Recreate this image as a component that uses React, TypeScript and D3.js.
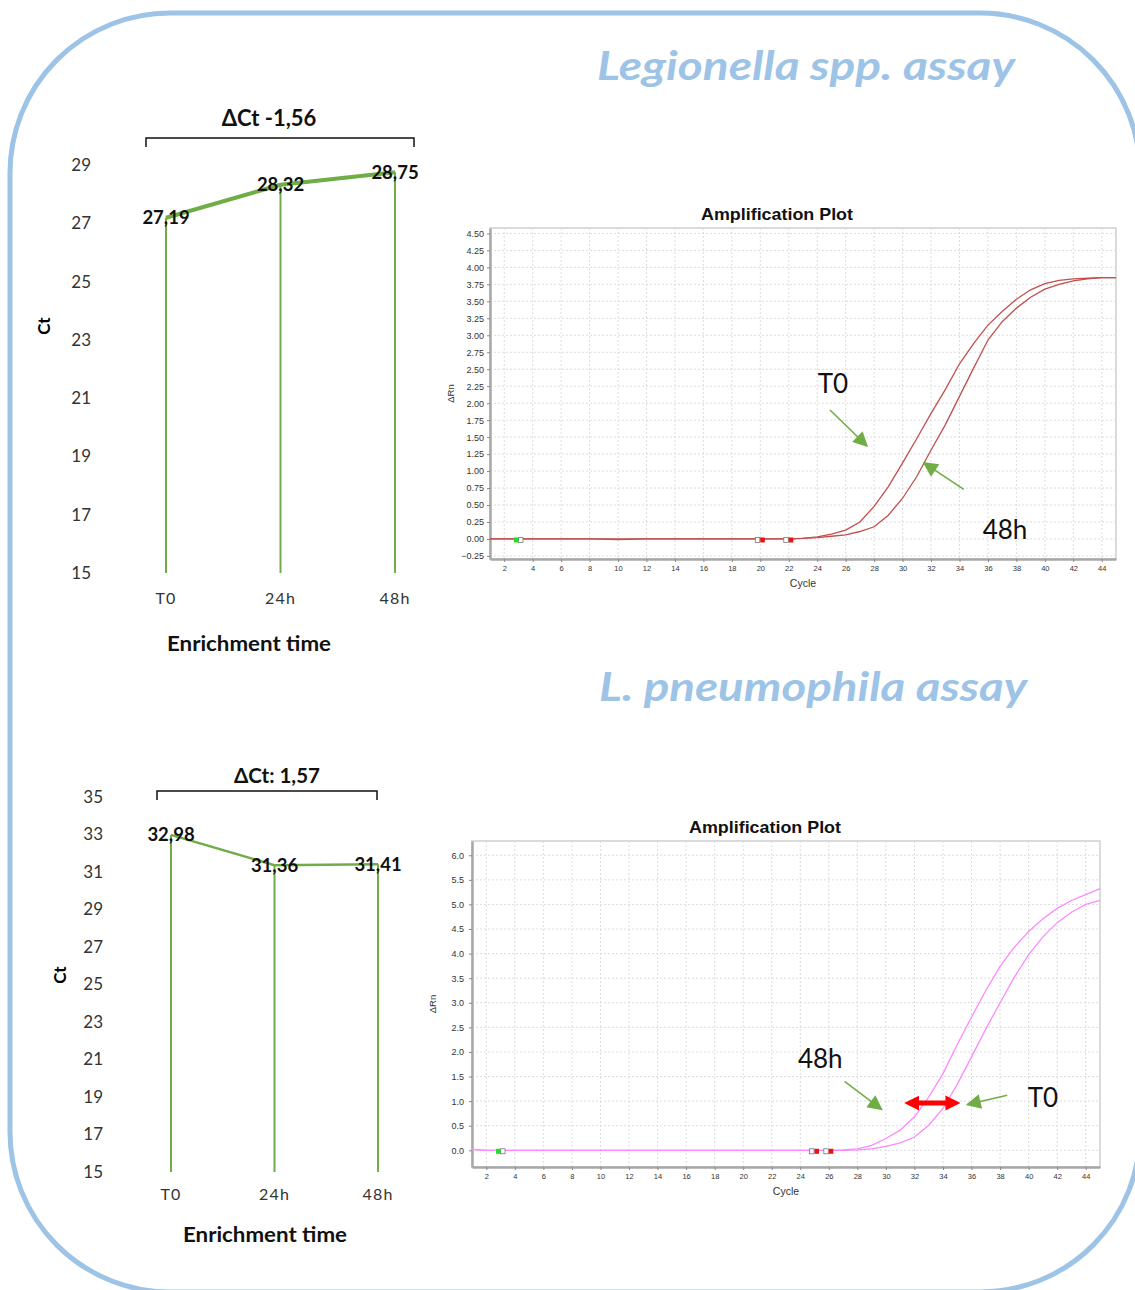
import * as d3 from 'd3';
import React, { useRef, useEffect } from 'react';

// enrichment time points shared by both Ct charts
const timePoints = ['T0', '24h', '48h'];

// Ct values (Legionella spp. assay / L. pneumophila assay)
const legionellaCt = [27.19, 28.32, 28.75];
const pneumophilaCt = [32.98, 31.36, 31.41];
const legionellaCtTicks = [15, 17, 19, 21, 23, 25, 27, 29];
const pneumophilaCtTicks = [15, 17, 19, 21, 23, 25, 27, 29, 31, 33, 35];

// amplification plot axes
const cycleTicks = [2, 4, 6, 8, 10, 12, 14, 16, 18, 20, 22, 24, 26, 28, 30, 32, 34, 36, 38, 40, 42, 44];
const legionellaRnTicks = [-0.25, 0, 0.25, 0.5, 0.75, 1, 1.25, 1.5, 1.75, 2, 2.25, 2.5, 2.75, 3, 3.25, 3.5, 3.75, 4, 4.25, 4.5];
const pneumophilaRnTicks = [0, 0.5, 1, 1.5, 2, 2.5, 3, 3.5, 4, 4.5, 5, 5.5, 6];

// Legionella spp. amplification curves (cycle, ΔRn)
const legionellaT0Cycles = [1, 8, 10, 12, 22, 23, 24, 25, 26, 27, 28, 29, 30, 31, 32, 33, 34, 35, 36, 37, 38, 39, 40, 41, 42, 43, 44, 45];
const legionellaT0Rn = [0, 0, -0.01, 0, 0, 0.01, 0.03, 0.07, 0.13, 0.25, 0.48, 0.77, 1.12, 1.48, 1.85, 2.2, 2.58, 2.88, 3.15, 3.35, 3.53, 3.67, 3.76, 3.81, 3.83, 3.84, 3.85, 3.85];
const legionella48hCycles = [1, 22, 23, 24, 25, 26, 27, 28, 29, 30, 31, 32, 33, 34, 35, 36, 37, 38, 39, 40, 41, 42, 43, 44, 45];
const legionella48hRn = [0, 0, 0.01, 0.02, 0.04, 0.06, 0.11, 0.18, 0.35, 0.6, 0.92, 1.31, 1.68, 2.1, 2.52, 2.93, 3.2, 3.4, 3.56, 3.68, 3.75, 3.8, 3.83, 3.85, 3.85];
const legionellaMarkers = [3, 20, 22];

// L. pneumophila amplification curves (cycle, ΔRn)
const pneumophila48hCycles = [1, 2, 26, 27, 28, 29, 30, 31, 32, 33, 34, 35, 36, 37, 38, 39, 40, 41, 42, 43, 44, 45];
const pneumophila48hRn = [0.02, 0, 0, 0.01, 0.03, 0.1, 0.24, 0.41, 0.68, 1.08, 1.56, 2.15, 2.71, 3.25, 3.74, 4.13, 4.45, 4.71, 4.92, 5.08, 5.2, 5.32];
const pneumophilaT0Cycles = [1, 2, 27, 28, 29, 30, 31, 32, 33, 34, 35, 36, 37, 38, 39, 40, 41, 42, 43, 44, 45];
const pneumophilaT0Rn = [0.02, 0, 0, 0.01, 0.03, 0.08, 0.15, 0.27, 0.51, 0.85, 1.34, 1.9, 2.47, 3.0, 3.52, 3.98, 4.34, 4.63, 4.84, 5.0, 5.08];
const pneumophilaMarkers = [3, 25, 26];

const CAL = 'Lato, "Open Sans", sans-serif';
const ARIAL = '"Liberation Sans", Arial, sans-serif';
const GREEN = '#70AD47';
const BLUE = '#9DC3E6';

const commaFmt = d3.formatLocale({ decimal: ',', thousands: '.', grouping: [3], currency: ['', ''] }).format('.2f');

function drawCt(svg, o) {
  const y = d3.scaleLinear().domain([o.ticks[0], o.ticks[o.ticks.length - 1]]).range([o.bottom, o.top]);
  const x = d3.scalePoint().domain(timePoints).range([o.x0, o.x1]);
  const g = svg.append('g').attr('font-family', CAL);

  g.selectAll('.ytick').data(o.ticks).enter().append('text')
    .attr('x', o.tickX).attr('y', d => y(d)).attr('dy', '0.35em')
    .attr('text-anchor', 'end').attr('font-size', 17).attr('fill', '#333')
    .text(d => d);

  // drop lines from each point to the axis floor
  g.selectAll('.drop').data(o.values).enter().append('line')
    .attr('x1', (d, i) => x(timePoints[i])).attr('x2', (d, i) => x(timePoints[i]))
    .attr('y1', d => y(d)).attr('y2', y(o.ticks[0]))
    .attr('stroke', GREEN).attr('stroke-width', 2);

  const line = d3.line().x((d, i) => x(timePoints[i])).y(d => y(d));
  g.append('path').datum(o.values).attr('d', line)
    .attr('fill', 'none').attr('stroke', GREEN).attr('stroke-width', o.lineWidth);

  g.selectAll('.val').data(o.values).enter().append('text')
    .attr('x', (d, i) => x(timePoints[i])).attr('y', d => y(d)).attr('dy', '0.35em')
    .attr('text-anchor', 'middle').attr('font-size', 18.5).attr('font-weight', 'bold').attr('fill', '#111')
    .text(d => commaFmt(d));

  g.selectAll('.cat').data(timePoints).enter().append('text')
    .attr('x', d => x(d)).attr('y', o.catY)
    .attr('text-anchor', 'middle').attr('font-size', 16).attr('letter-spacing', 1.2).attr('fill', '#333')
    .text(d => d);

  g.append('text').attr('transform', `translate(${o.ctX},${o.ctY}) rotate(-90)`)
    .attr('text-anchor', 'middle').attr('dy', '0.35em').attr('font-size', 17).attr('font-weight', 'bold')
    .text('Ct');

  g.append('text').attr('x', o.xTitleX).attr('y', o.xTitleY).attr('text-anchor', 'middle')
    .attr('textLength', 164).attr('lengthAdjust', 'spacingAndGlyphs')
    .attr('font-size', 21).attr('font-weight', 'bold').attr('fill', '#111').text('Enrichment time');

  // bracket + ΔCt title
  const b = o.bracket;
  g.append('path').attr('d', `M${b[0]},${b[2] + 9}V${b[2]}H${b[1]}V${b[2] + 9}`)
    .attr('fill', 'none').attr('stroke', '#111').attr('stroke-width', 1.5);
  g.append('text').attr('x', (b[0] + b[1]) / 2 + o.titleShift).attr('y', o.titleY).attr('text-anchor', 'middle')
    .attr('font-size', o.titleSize).attr('font-weight', 'bold').attr('fill', '#111').text(o.title);
}

function drawAmp(svg, o) {
  const x = d3.scaleLinear().domain([1, 45]).range([o.left, o.right]);
  const y = d3.scaleLinear().domain(o.yDomain).range([o.bottom, o.top]);
  const g = svg.append('g').attr('font-family', ARIAL);

  g.append('rect').attr('x', o.left).attr('y', o.top).attr('width', o.right - o.left).attr('height', o.bottom - o.top)
    .attr('fill', '#fff').attr('stroke', '#cfcfcf').attr('stroke-width', 1.5);

  // dashed grid
  g.selectAll('.gx').data(cycleTicks).enter().append('line')
    .attr('x1', d => x(d)).attr('x2', d => x(d)).attr('y1', o.top).attr('y2', o.bottom)
    .attr('stroke', '#dcdcdc').attr('stroke-dasharray', '2,2');
  g.selectAll('.gy').data(o.yTicks).enter().append('line')
    .attr('x1', o.left).attr('x2', o.right).attr('y1', d => y(d)).attr('y2', d => y(d))
    .attr('stroke', '#dcdcdc').attr('stroke-dasharray', '2,2');

  const yAxis = g.append('g').attr('transform', `translate(${o.left},0)`)
    .call(d3.axisLeft(y).tickValues(o.yTicks).tickFormat(d3.format(o.yFmt)).tickSize(3).tickPadding(o.yPad).tickSizeOuter(0));
  yAxis.selectAll('text').attr('font-size', 9).attr('fill', '#333').attr('font-family', ARIAL);
  yAxis.selectAll('line').attr('stroke', '#888');
  yAxis.select('.domain').attr('stroke', '#a8a8a8').attr('stroke-width', 2.5);

  const xAxis = g.append('g').attr('transform', `translate(0,${o.bottom})`)
    .call(d3.axisBottom(x).tickValues(cycleTicks).tickSize(3).tickPadding(4).tickSizeOuter(0));
  xAxis.selectAll('text').attr('font-size', 7.5).attr('fill', '#333').attr('font-family', ARIAL);
  xAxis.selectAll('line').attr('stroke', '#888');
  xAxis.select('.domain').attr('stroke', '#a8a8a8').attr('stroke-width', 2.5);

  g.append('text').attr('x', (o.left + o.right) / 2 + o.titleShift).attr('y', o.top - 8).attr('text-anchor', 'middle')
    .attr('textLength', 152).attr('lengthAdjust', 'spacingAndGlyphs')
    .attr('font-size', 16.5).attr('font-weight', 'bold').attr('fill', '#111').text('Amplification Plot');
  g.append('text').attr('transform', `translate(${o.left - 36},${(o.top + o.bottom) / 2}) rotate(-90)`)
    .attr('text-anchor', 'middle').attr('font-size', 9.5).attr('fill', '#333').text('ΔRn');
  g.append('text').attr('x', (o.left + o.right) / 2).attr('y', o.bottom + 28).attr('text-anchor', 'middle')
    .attr('font-size', 10.5).attr('fill', '#333').text('Cycle');

  const line = d3.line().x(d => x(d[0])).y(d => y(d[1]));
  o.curves.forEach(c => {
    g.append('path').datum(d3.zip(c.cycles, c.rn)).attr('d', line)
      .attr('fill', 'none').attr('stroke', c.color).attr('stroke-width', 1.3);
  });

  // baseline start / end markers
  o.markers.forEach((m, i) => {
    const cx = x(m);
    const cy = y(0) + 1;
    const first = i === 0;
    g.append('rect').attr('x', first ? cx : cx - 5).attr('y', cy - 2.5).attr('width', 4.5).attr('height', 5)
      .attr('fill', '#fff').attr('stroke', '#777').attr('stroke-width', 0.8);
    g.append('rect').attr('x', first ? cx - 4.5 : cx).attr('y', cy - 2.5).attr('width', 4.5).attr('height', 5)
      .attr('fill', first ? '#22dd22' : '#ee1111');
  });

  // annotations
  o.labels.forEach(l => {
    g.append('text').attr('x', x(l.c)).attr('y', y(l.v)).attr('dy', '0.35em').attr('text-anchor', 'middle')
      .attr('font-family', CAL).attr('font-size', 26).attr('fill', '#111').text(l.t);
  });
  o.arrows.forEach(a => {
    g.append('line').attr('x1', x(a[0])).attr('y1', y(a[1])).attr('x2', x(a[2])).attr('y2', y(a[3]))
      .attr('stroke', GREEN).attr('stroke-width', 1.6).attr('marker-end', 'url(#greenHead)');
  });
  if (o.gap) {
    g.append('line').attr('x1', x(o.gap[0]) + 6).attr('y1', y(o.gap[2])).attr('x2', x(o.gap[1]) - 6).attr('y2', y(o.gap[2]))
      .attr('stroke', '#ff0000').attr('stroke-width', 5)
      .attr('marker-start', 'url(#redHead)').attr('marker-end', 'url(#redHead)');
  }
}

export default function App() {
  const svgRef = useRef(null);

  useEffect(() => {
    if (!svgRef.current) return;
    const svg = d3.select(svgRef.current);
    svg.selectAll('*').remove();

    const defs = svg.append('defs');
    defs.append('marker').attr('id', 'greenHead').attr('viewBox', '0 0 10 10').attr('refX', 9).attr('refY', 5)
      .attr('markerWidth', 17).attr('markerHeight', 15).attr('markerUnits', 'userSpaceOnUse').attr('orient', 'auto')
      .append('path').attr('d', 'M0,0L10,5L0,10z').attr('fill', GREEN);
    defs.append('marker').attr('id', 'redHead').attr('viewBox', '0 0 10 10').attr('refX', 2).attr('refY', 5)
      .attr('markerWidth', 15).attr('markerHeight', 17).attr('markerUnits', 'userSpaceOnUse').attr('orient', 'auto-start-reverse')
      .append('path').attr('d', 'M0,0L10,5L0,10z').attr('fill', '#ff0000');

    svg.append('rect').attr('width', 1135).attr('height', 1290).attr('fill', '#fff');
    svg.append('rect').attr('x', 10).attr('y', 13).attr('width', 1130).attr('height', 1279).attr('rx', 160)
      .attr('fill', 'none').attr('stroke', BLUE).attr('stroke-width', 5);

    svg.append('text').attr('x', 597).attr('y', 80).attr('textLength', 418).attr('lengthAdjust', 'spacingAndGlyphs')
      .attr('font-family', CAL).attr('font-size', 40).attr('font-weight', 'bold').attr('font-style', 'italic')
      .attr('fill', BLUE).text('Legionella spp. assay');
    svg.append('text').attr('x', 599).attr('y', 701).attr('textLength', 428).attr('lengthAdjust', 'spacingAndGlyphs')
      .attr('font-family', CAL).attr('font-size', 40).attr('font-weight', 'bold').attr('font-style', 'italic')
      .attr('fill', BLUE).text('L. pneumophila assay');

    drawCt(svg, {
      values: legionellaCt, ticks: legionellaCtTicks, top: 165, bottom: 573, x0: 166, x1: 395,
      tickX: 91, catY: 604, ctX: 44, ctY: 326, xTitleX: 249, xTitleY: 651, lineWidth: 4,
      bracket: [146, 414, 138], title: 'ΔCt -1,56', titleY: 126, titleSize: 22, titleShift: -11,
    });
    drawCt(svg, {
      values: pneumophilaCt, ticks: pneumophilaCtTicks, top: 797, bottom: 1172, x0: 171, x1: 378,
      tickX: 103, catY: 1200, ctX: 60, ctY: 975, xTitleX: 265, xTitleY: 1242, lineWidth: 2.5,
      bracket: [157, 377, 791], title: 'ΔCt: 1,57', titleY: 783, titleSize: 20.5, titleShift: 10,
    });

    drawAmp(svg, {
      left: 490, right: 1116, top: 228, bottom: 559, yDomain: [-0.295, 4.58], yTicks: legionellaRnTicks,
      yFmt: '.2f', yPad: 3, titleShift: -26,
      curves: [
        { cycles: legionellaT0Cycles, rn: legionellaT0Rn, color: '#c0504d' },
        { cycles: legionella48hCycles, rn: legionella48hRn, color: '#c0504d' },
      ],
      markers: legionellaMarkers,
      labels: [{ t: 'T0', c: 25.1, v: 2.28 }, { t: '48h', c: 37.2, v: 0.13 }],
      arrows: [[24.9, 1.9, 27.5, 1.37], [34.3, 0.73, 31.5, 1.12]],
    });
    drawAmp(svg, {
      left: 472, right: 1100, top: 841, bottom: 1167, yDomain: [-0.34, 6.29], yTicks: pneumophilaRnTicks,
      yFmt: '.1f', yPad: 5, titleShift: -21,
      curves: [
        { cycles: pneumophila48hCycles, rn: pneumophila48hRn, color: '#ff88ff' },
        { cycles: pneumophilaT0Cycles, rn: pneumophilaT0Rn, color: '#ff88ff' },
      ],
      markers: pneumophilaMarkers,
      labels: [{ t: '48h', c: 25.4, v: 1.85 }, { t: 'T0', c: 41.0, v: 1.06 }],
      arrows: [[27.1, 1.4, 29.7, 0.83], [38.5, 1.12, 35.7, 0.93]],
      gap: [31.7, 34.8, 0.96],
    });
  }, [svgRef.current]);

  return (
    <div>
      <svg ref={svgRef} width={1135} height={1290} style={{ position: 'absolute', left: 0, top: 0 }} />
    </div>
  );
}
